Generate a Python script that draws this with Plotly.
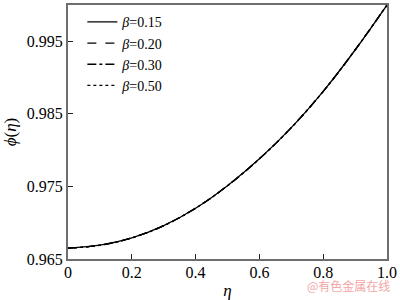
import plotly.graph_objects as go

eta = [0.0, 0.1, 0.2, 0.3, 0.4, 0.5, 0.6, 0.7, 0.8, 0.9, 1.0]
phi_015 = [0.9665, 0.9669, 0.9679, 0.9696, 0.9720, 0.9751, 0.9788, 0.9831, 0.9881, 0.9938, 1.0000]
phi_020 = [0.9665, 0.9669, 0.9679, 0.9696, 0.9720, 0.9751, 0.9788, 0.9831, 0.9881, 0.9938, 1.0000]
phi_030 = [0.9665, 0.9669, 0.9679, 0.9696, 0.9720, 0.9751, 0.9788, 0.9831, 0.9881, 0.9938, 1.0000]
phi_050 = [0.9665, 0.9669, 0.9679, 0.9696, 0.9720, 0.9751, 0.9788, 0.9831, 0.9881, 0.9938, 1.0000]
series_names = ["<i>β</i>=0.15", "<i>β</i>=0.20", "<i>β</i>=0.30", "<i>β</i>=0.50"]
dashes = ["solid", "dash", "dashdot", "dot"]
x_ticks = [0, 0.2, 0.4, 0.6, 0.8, 1.0]
x_ticktext = ["0", "0.2", "0.4", "0.6", "0.8", "1.0"]
y_ticks = [0.965, 0.975, 0.985, 0.995]
y_ticktext = ["0.965", "0.975", "0.985", "0.995"]

FONT = "Liberation Serif"

fig = go.Figure()
for name, ys, d in zip(series_names, [phi_015, phi_020, phi_030, phi_050], dashes):
    fig.add_trace(go.Scatter(x=eta, y=ys, mode="lines", name=name,
                             line=dict(color="black", width=1.3, dash=d, shape="spline")))

axis_common = dict(showline=True, linecolor="#6e6e6e", linewidth=2, mirror=True,
                   ticks="inside", ticklen=5, tickcolor="#222", tickwidth=1,
                   showgrid=False, zeroline=False, ticklabeloverflow="allow",
                   tickfont=dict(family=FONT, size=16, color="black"))

fig.update_layout(
    width=400, height=300,
    margin=dict(l=68, r=7, t=3, b=37),
    paper_bgcolor="white", plot_bgcolor="white",
    font=dict(family=FONT, size=16, color="black"),
    xaxis=dict(range=[0, 1.0], tickvals=x_ticks, ticktext=x_ticktext,
               ticklabelstandoff=-2,
               title=dict(text="<i>η</i>", standoff=4, font=dict(family=FONT, size=17)),
               **axis_common),
    yaxis=dict(range=[0.965, 1.0], tickvals=y_ticks, ticktext=y_ticktext,
               title=dict(text="<i>ϕ</i>(<i>η</i>)", standoff=6, font=dict(family=FONT, size=17)),
               **axis_common),
    legend=dict(x=0.045, y=0.995, xanchor="left", yanchor="top",
                bgcolor="rgba(0,0,0,0)", font=dict(family=FONT, size=14),
                tracegroupgap=0, itemwidth=30),
    showlegend=True,
)

fig.add_annotation(text="@有色金属在线", xref="paper", yref="paper",
                   x=1.012, y=-0.142, xanchor="right", yanchor="bottom",
                   showarrow=False, borderpad=0,
                   font=dict(family="Noto Sans CJK SC", size=12, color="#f2a6a6"))

fig.write_html("out.html")
